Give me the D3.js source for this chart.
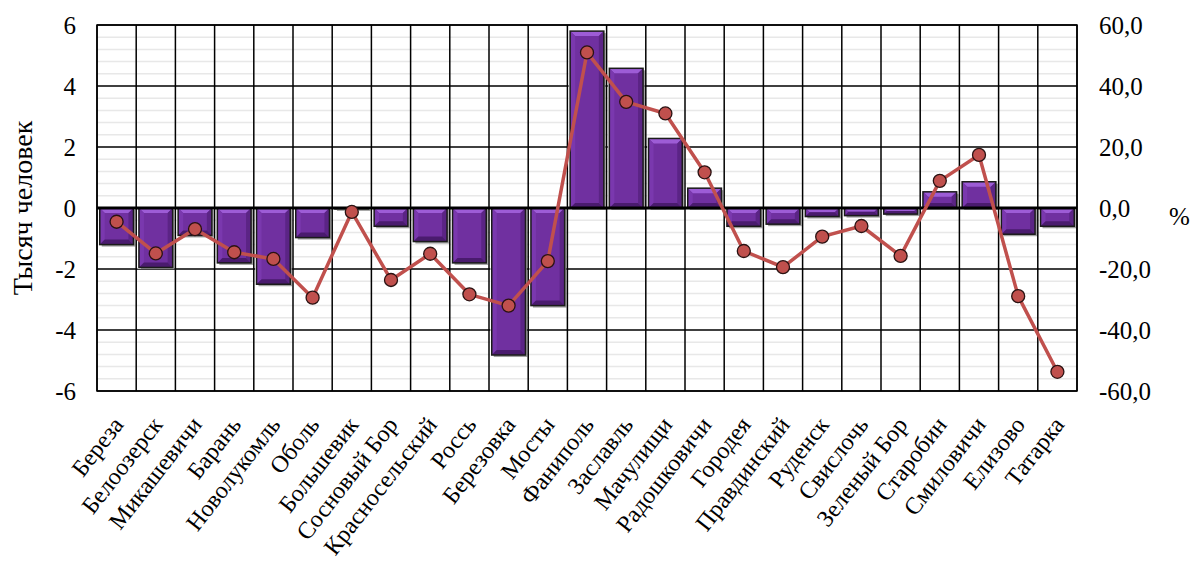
<!DOCTYPE html>
<html><head><meta charset="utf-8">
<script src="https://cdn.jsdelivr.net/npm/d3@7"></script>
</head><body style="margin:0">
<script>
const categories = ["Береза","Белоозерск","Микашевичи","Барань","Новолукомль","Оболь","Большевик","Сосновый Бор","Красносельский","Россь","Березовка","Мосты","Фаниполь","Заславль","Мачулищи","Радошковичи","Городея","Правдинский","Руденск","Свислочь","Зеленый Бор","Старобин","Смиловичи","Елизово","Татарка"];
const thousands = [-1.2,-1.95,-0.9,-1.8,-2.5,-0.97,-0.03,-0.6,-1.1,-1.8,-4.82,-3.2,5.8,4.58,2.28,0.65,-0.6,-0.53,-0.28,-0.25,-0.2,0.53,0.86,-0.86,-0.6];
const percent = [-4.5,-14.9,-6.9,-14.5,-16.7,-29.4,-1.3,-23.6,-15.0,-28.3,-32.0,-17.4,51.0,34.8,31.0,11.7,-14.1,-19.4,-9.4,-5.9,-15.7,8.9,17.4,-28.9,-53.7];
const leftTicks = [-6,-4,-2,0,2,4,6];
const rightTicks = [-60,-40,-20,0,20,40,60];
const leftTitle = "Тысяч человек";
const rightTitle = "%";

const FONT = '"Liberation Serif"';
const W = 1193, H = 569;
const m = {l:97, r:1077, t:25, b:391};
const svg = d3.select("body").append("svg").attr("width",W).attr("height",H);

const x = d3.scaleBand().domain(categories).range([m.l,m.r]).paddingInner(0.14).paddingOuter(0.07);
const yL = d3.scaleLinear().domain([-6,6]).range([m.b,m.t]);
const yR = d3.scaleLinear().domain([-60,60]).range([m.b,m.t]);

const minor = d3.range(-6,6.001,0.4).filter(v=>Math.abs(v/2-Math.round(v/2))>0.01);
svg.append("g").selectAll("line").data(minor).join("line")
  .attr("x1",m.l).attr("x2",m.r).attr("y1",d=>yL(d)).attr("y2",d=>yL(d))
  .attr("stroke","#e8e8e8").attr("stroke-width",1.5);
svg.append("g").selectAll("line").data(leftTicks).join("line")
  .attr("x1",m.l).attr("x2",m.r).attr("y1",d=>yL(d)).attr("y2",d=>yL(d))
  .attr("stroke","#000").attr("stroke-width",1.5);
const step = x.step();
const bounds = d3.range(categories.length+1).map(i=>m.l+i*step);
svg.append("g").selectAll("line").data(bounds).join("line")
  .attr("x1",d=>d).attr("x2",d=>d).attr("y1",m.t).attr("y2",m.b)
  .attr("stroke","#000").attr("stroke-width",1.5);

const bars = svg.append("g");
categories.forEach((c,i)=>{
  const v = thousands[i];
  const bx = x(c), w = x.bandwidth();
  const y0 = Math.min(yL(v),yL(0)), h = Math.abs(yL(v)-yL(0));
  if (h < 0.5) return;
  const g = bars.append("g");
  g.append("rect").attr("x",bx-1.5).attr("y",y0-1.5).attr("width",w+3).attr("height",h+3).attr("fill","#fff").attr("opacity",0.9);
  g.append("rect").attr("x",bx+2).attr("y",y0+2).attr("width",w).attr("height",h).attr("fill","#444").attr("opacity",0.5);
  g.append("rect").attr("x",bx).attr("y",y0).attr("width",w).attr("height",h).attr("fill","#7030A0");
  const b = Math.min(5,h/2);
  const P = pts=>pts.map(p=>p.join(",")).join(" ");
  const X0=bx, X1=bx+w, Y0=y0, Y1=y0+h;
  g.append("polygon").attr("points",P([[X0,Y0],[X1,Y0],[X1-b,Y0+b],[X0+b,Y0+b]])).attr("fill","#9D5CD6");
  g.append("polygon").attr("points",P([[X0,Y0],[X0+b,Y0+b],[X0+b,Y1-b],[X0,Y1]])).attr("fill","#7A38AE");
  g.append("polygon").attr("points",P([[X1,Y0],[X1,Y1],[X1-b,Y1-b],[X1-b,Y0+b]])).attr("fill","#5B2485");
  g.append("polygon").attr("points",P([[X0,Y1],[X1,Y1],[X1-b,Y1-b],[X0+b,Y1-b]])).attr("fill","#4A1B6E");
  g.append("rect").attr("x",bx).attr("y",y0).attr("width",w).attr("height",h).attr("fill","none").attr("stroke","#1b1b1b").attr("stroke-width",1.5);
});

svg.append("line").attr("x1",m.l).attr("x2",m.r).attr("y1",yL(0)).attr("y2",yL(0)).attr("stroke","#000").attr("stroke-width",3);
svg.append("rect").attr("x",m.l).attr("y",m.t).attr("width",m.r-m.l).attr("height",m.b-m.t).attr("fill","none").attr("stroke","#000").attr("stroke-width",1.5);

const cx = c=>x(c)+x.bandwidth()/2;
svg.append("path").datum(categories)
  .attr("d",d3.line().x(c=>cx(c)).y((c,i)=>yR(percent[i])))
  .attr("fill","none").attr("stroke","#C0504D").attr("stroke-width",3.5).attr("stroke-linejoin","round");
svg.append("g").selectAll("circle").data(categories).join("circle")
  .attr("cx",c=>cx(c)).attr("cy",(c,i)=>yR(percent[i])).attr("r",6.5)
  .attr("fill","#C0504D").attr("stroke","#2a1212").attr("stroke-width",1.3);

const axL = d3.axisLeft(yL).tickValues(leftTicks).tickSize(0).tickPadding(0).tickFormat(d=>String(d));
const gL = svg.append("g").attr("transform","translate(76,0)").call(axL);
gL.select(".domain").remove();
gL.attr("font-family",null).attr("font-size",null);
gL.selectAll("text").style("font-family",FONT).style("font-size","25px").attr("dy","0.35em").attr("fill","#000");

const fmtR = d=>d3.format(".1f")(d).replace(".",",").replace("−","-");
const axR = d3.axisRight(yR).tickValues(rightTicks).tickSize(0).tickPadding(0).tickFormat(fmtR);
const gR = svg.append("g").attr("transform","translate(1099,0)").call(axR);
gR.select(".domain").remove();
gR.attr("font-family",null).attr("font-size",null);
gR.selectAll("text").style("font-family",FONT).style("font-size","25px").attr("dy","0.35em").attr("fill","#000");

const axB = d3.axisBottom(x).tickSize(0).tickPadding(0);
const gB = svg.append("g").attr("transform",`translate(0,${m.b})`).call(axB);
gB.select(".domain").remove();
gB.attr("font-family",null).attr("font-size",null);
gB.selectAll("text").style("font-family",FONT).style("font-size","24px").attr("fill","#000")
  .attr("text-anchor","end").attr("dy",0).attr("y",0)
  .attr("transform","translate(8,34) rotate(-52)");

svg.append("text").attr("transform","translate(32,208) rotate(-90)").attr("text-anchor","middle")
  .style("font-family",FONT).style("font-size","28px").text(leftTitle);
svg.append("text").attr("x",1169).attr("y",216).attr("dy","0.35em")
  .style("font-family",FONT).style("font-size","25px").text(rightTitle);
</script>
</body></html>
